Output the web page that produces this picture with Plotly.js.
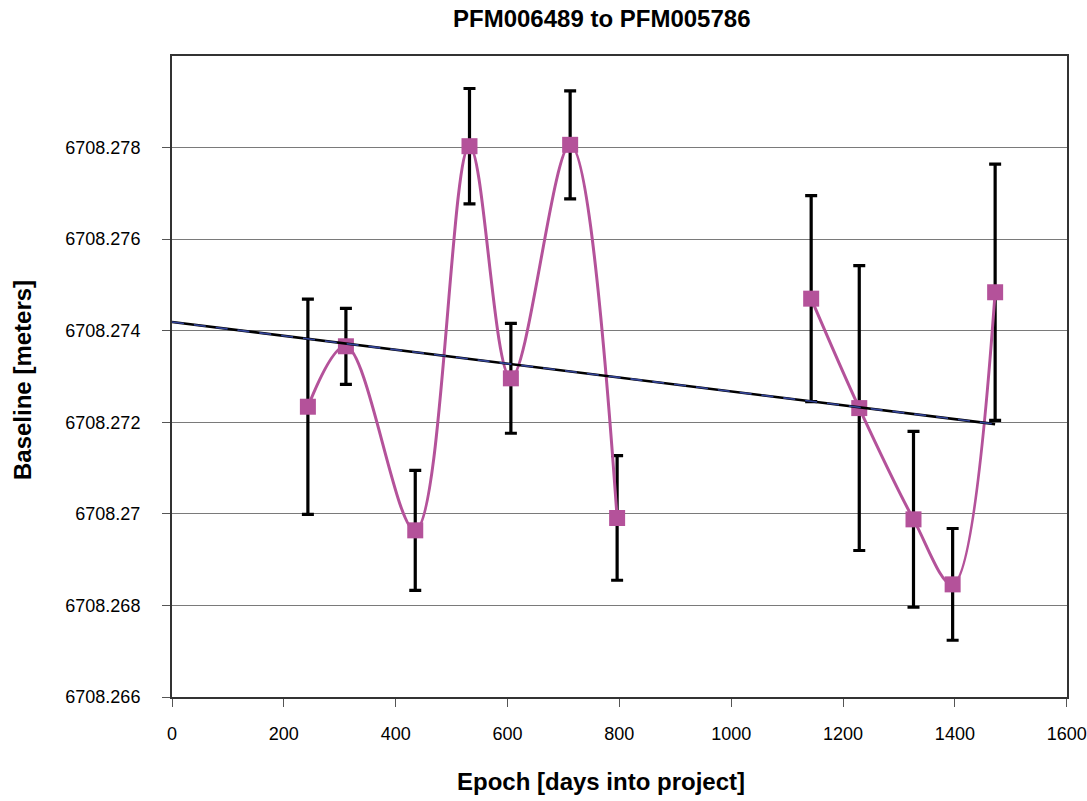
<!DOCTYPE html>
<html>
<head>
<meta charset="utf-8">
<script src="https://cdn.plot.ly/plotly-3.0.1.min.js"></script>
<style>html,body{margin:0;padding:0;background:#fff;}#chart{width:1087px;height:801px;}</style>
</head>
<body>
<div id="chart"></div>
<script>
// Data
const epochDays = [243, 311, 435, 532, 606, 712, 796, 1143, 1229, 1326, 1396, 1472];
const baseline = [6708.27234, 6708.27366, 6708.26964, 6708.27803, 6708.27296, 6708.27806, 6708.26991, 6708.27470, 6708.27231, 6708.26988, 6708.26846, 6708.27484];
const baselineError = [0.00235, 0.00083, 0.00131, 0.00126, 0.00120, 0.00118, 0.00136, 0.00225, 0.00311, 0.00192, 0.00122, 0.00280];
const segmentBreaks = [0, 7, 12]; // line is broken between point 7 and point 8
const trendX = [0, 1472];
const trendY = [6708.27419, 6708.27196];
const yTickValues = [6708.266, 6708.268, 6708.270, 6708.272, 6708.274, 6708.276, 6708.278];
const yTickLabels = ['6708.266', '6708.268', '6708.27', '6708.272', '6708.274', '6708.276', '6708.278'];
const xTickValues = [0, 200, 400, 600, 800, 1000, 1200, 1400, 1600];
const xTickLabels = ['0', '200', '400', '600', '800', '1000', '1200', '1400', '1600'];

const FONT = 'Liberation Sans, Arial, sans-serif';
const MAGENTA = '#B4529A';

const traces = [];
for (let s = 0; s < segmentBreaks.length - 1; s++) {
  const a = segmentBreaks[s], b = segmentBreaks[s + 1];
  traces.push({
    type: 'scatter', mode: 'lines+markers',
    x: epochDays.slice(a, b), y: baseline.slice(a, b),
    line: {color: MAGENTA, width: 3, shape: 'spline', smoothing: 1},
    marker: {symbol: 'square', size: 16, color: MAGENTA},
    error_y: {type: 'data', array: baselineError.slice(a, b), visible: true, color: '#000', thickness: 3.2, width: 6},
    showlegend: false, hoverinfo: 'x+y'
  });
}
traces.push({
  type: 'scatter', mode: 'lines', x: trendX, y: trendY,
  line: {color: '#000', width: 2.6}, showlegend: false, hoverinfo: 'skip'
});
traces.push({
  type: 'scatter', mode: 'lines', x: trendX, y: trendY,
  line: {color: '#33449a', width: 1.6, dash: '12px,10px'}, showlegend: false, hoverinfo: 'skip'
});

const L = 172, R = 20, T = 56, B = 104, W = 1087, H = 801;
const pw = W - L - R, ph = H - T - B;
function px(x) { return (x - L) / pw; }
function py(y) { return (H - B - y) / ph; }

const layout = {
  width: W, height: H,
  paper_bgcolor: '#fff', plot_bgcolor: '#fff',
  margin: {l: L, r: R, t: T, b: B},
  font: {family: FONT, color: '#000'},
  xaxis: {
    range: [0, 1600.5], tickvals: xTickValues, ticktext: xTickLabels, ticks: 'outside', ticklen: 8, tickcolor: '#555', tickwidth: 1,
    showline: true, linecolor: '#333', linewidth: 2, mirror: true,
    showgrid: false, zeroline: false, tickfont: {size: 18, family: FONT, color: '#000'},
    ticklabelstandoff: 11
  },
  yaxis: {
    range: [6708.266, 6708.280], tickvals: yTickValues, ticktext: yTickLabels,
    ticks: 'outside', ticklen: 8, tickcolor: '#555', tickwidth: 1,
    showline: true, linecolor: '#333', linewidth: 2, mirror: true,
    showgrid: true, gridcolor: '#7a7a7a', gridwidth: 1, zeroline: false,
    tickfont: {size: 18, family: FONT, color: '#000'}, ticklabelstandoff: 18
  },
  annotations: [
    {text: '<b>PFM006489 to PFM005786</b>', xref: 'paper', yref: 'paper', x: px(601), y: py(19),
     xanchor: 'center', yanchor: 'middle', showarrow: false,
     font: {size: 24, family: FONT, color: '#000'}},
    {text: '<b>Epoch [days into project]</b>', xref: 'paper', yref: 'paper', x: px(601), y: py(781),
     xanchor: 'center', yanchor: 'middle', showarrow: false,
     font: {size: 24, family: FONT, color: '#000'}},
    {text: '<b>Baseline [meters]</b>', xref: 'paper', yref: 'paper', x: px(22), y: py(380),
     xanchor: 'center', yanchor: 'middle', showarrow: false, textangle: -90,
     font: {size: 24, family: FONT, color: '#000'}}
  ]
};

Plotly.newPlot('chart', traces, layout, {staticPlot: true});
</script>
</body>
</html>
